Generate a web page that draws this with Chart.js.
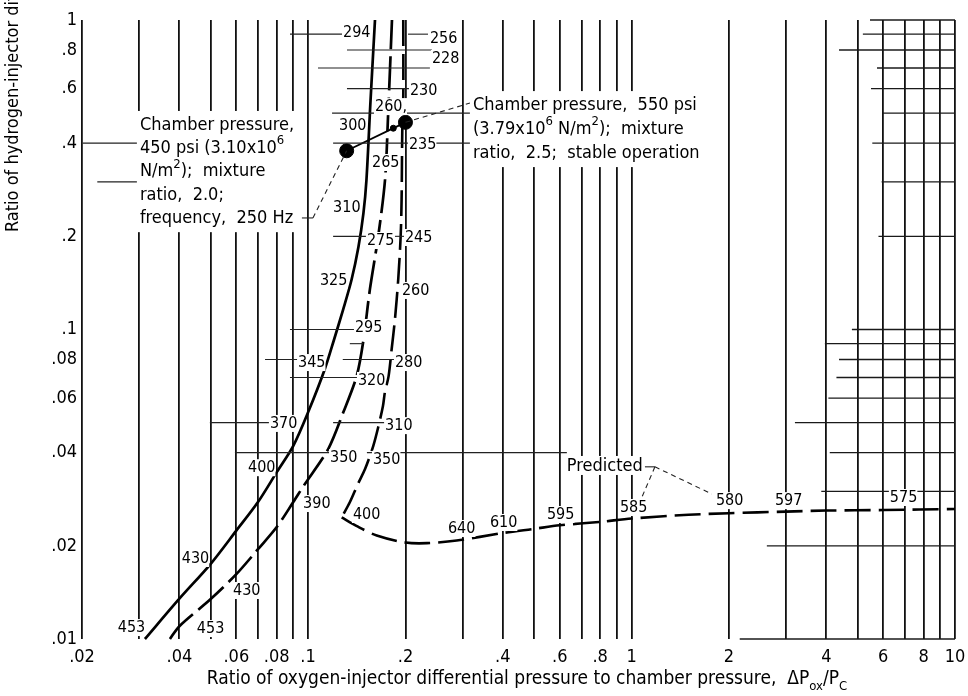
<!DOCTYPE html>
<html>
<head>
<meta charset="utf-8">
<script src="https://cdn.jsdelivr.net/npm/chart.js@4.4.1/dist/chart.umd.min.js"></script>
<style>
  html, body { margin: 0; padding: 0; background: #fff; }
  canvas { display: block; }
</style>
</head>
<body>
<canvas id="chart" width="968" height="696"></canvas>
<script>
const FONT = "'DejaVu Sans Condensed', 'Liberation Sans Narrow', 'DejaVu Sans', sans-serif";

// Axis grid and tick labels (log-log paper)
const xGridValues = [0.02, 0.03, 0.04, 0.05, 0.06, 0.07, 0.08, 0.09,
  0.1, 0.2, 0.3, 0.4, 0.5, 0.6, 0.7, 0.8, 0.9, 1, 2, 3, 4, 5, 6, 7, 8, 9, 10];
const xLabelValues = [0.02, 0.04, 0.06, 0.08, 0.1, 0.2, 0.4, 0.6, 0.8, 1, 2, 4, 6, 8, 10];
const xLabelText = ['.02', '.04', '.06', '.08', '.1', '.2', '.4', '.6', '.8', '1', '2', '4', '6', '8', '10'];
const yLabelValues = [0.01, 0.02, 0.04, 0.06, 0.08, 0.1, 0.2, 0.4, 0.6, 0.8, 1];
const yLabelText = ['.01', '.02', '.04', '.06', '.08', '.1', '.2', '.4', '.6', '.8', '1'];

// Stability boundaries: [dPox/Pc, dPh/Pc]
const solidCurve = [[0.0313, 0.01], [0.04, 0.0135], [0.05, 0.0175], [0.06, 0.0224], [0.07, 0.0277],
  [0.08, 0.0346], [0.09, 0.0421], [0.1, 0.054], [0.1124, 0.074], [0.1202, 0.0925], [0.1282, 0.1156],
  [0.1362, 0.1445], [0.1431, 0.1848], [0.1483, 0.2378], [0.1515, 0.304], [0.156, 0.551], [0.161, 1.0]];
const longDashCurve = [[0.0374, 0.01], [0.04, 0.011], [0.05, 0.01346], [0.06, 0.0162], [0.07, 0.0195],
  [0.08, 0.023], [0.09, 0.0277], [0.097, 0.0313], [0.1154, 0.0411], [0.1285, 0.054], [0.1413, 0.0707],
  [0.148, 0.0911], [0.1553, 0.135], [0.1648, 0.2005], [0.173, 0.306], [0.1767, 0.49], [0.1817, 1.0]];
const shortDashCurve = [[0.1969, 1.0], [0.1969, 0.555], [0.1955, 0.4346], [0.1946, 0.264], [0.1933, 0.2005],
  [0.19, 0.1456], [0.1856, 0.108], [0.1813, 0.0865], [0.1774, 0.0707], [0.1728, 0.0628], [0.1704, 0.0566],
  [0.1648, 0.0484], [0.159, 0.042], [0.15, 0.0354], [0.1426, 0.0317], [0.1347, 0.0277], [0.127, 0.0247]];
const predictedCurve = [[0.127, 0.0247], [0.141, 0.0232], [0.163, 0.0216], [0.2, 0.0205], [0.233, 0.0204],
  [0.288, 0.0208], [0.4, 0.022], [0.5, 0.0227], [0.6, 0.0233], [0.8, 0.0239], [1.0, 0.0245], [1.5, 0.0252],
  [2, 0.0255], [3, 0.0258], [4, 0.026], [6, 0.0261], [10, 0.0263]];

// Operating points (450 psi and 550 psi) and the crossing marker
const operatingPoints = [[0.1316, 0.378], [0.2, 0.467]];
const crossingPoint = [[0.1834, 0.447]];

// Value labels along the curves: [text, x, y] (left edge, middle)
const curveLabels = [
  ['294', 0.1282, 0.915], ['256', 0.238, 0.875], ['228', 0.2415, 0.754], ['230', 0.2065, 0.594],
  ['260,', 0.161, 0.527], ['300', 0.1246, 0.458], ['235', 0.205, 0.3975], ['265', 0.1576, 0.3477],
  ['310', 0.1195, 0.2487], ['275', 0.152, 0.1946], ['245', 0.1993, 0.199], ['325', 0.1088, 0.1445],
  ['260', 0.195, 0.1342], ['295', 0.1396, 0.1019], ['345', 0.0931, 0.0785], ['280', 0.1856, 0.0785],
  ['320', 0.1426, 0.0687], ['370', 0.0762, 0.0499], ['310', 0.173, 0.0491], ['350', 0.1169, 0.0387],
  ['350', 0.1587, 0.0382], ['400', 0.0652, 0.0359], ['390', 0.0965, 0.0275], ['400', 0.1376, 0.02534],
  ['430', 0.0407, 0.01827], ['430', 0.0586, 0.0144], ['453', 0.0258, 0.01093], ['453', 0.0453, 0.01085],
  ['640', 0.2706, 0.02284], ['610', 0.3648, 0.02388], ['595', 0.5476, 0.02534], ['585', 0.9205, 0.0267],
  ['580', 1.8236, 0.0281], ['597', 2.775, 0.0281], ['575', 6.29, 0.02876]
];
const predictedLabel = ['Predicted', 0.631, 0.0365];

// Leader lines to the labels: [y, xFrom, xTo]
const leaderLines = [
  [0.9, 0.0879, 0.1282], [0.9, 0.2036, 0.2348], [0.8, 0.1319, 0.2415], [0.7, 0.1073, 0.238],
  [0.6, 0.1319, 0.2065], [0.5, 0.1186, 0.3165], [0.4, 0.0201, 0.0296], [0.4, 0.1195, 0.2036],
  [0.4, 0.2425, 0.3165], [0.3, 0.0223, 0.0296], [0.2, 0.1195, 0.152], [0.2, 0.1856, 0.1993],
  [0.1, 0.0879, 0.1396], [0.09, 0.1346, 0.148], [0.08, 0.0736, 0.0931], [0.08, 0.128, 0.1856],
  [0.07, 0.0879, 0.1426], [0.05, 0.0497, 0.0762], [0.05, 0.1195, 0.173], [0.04, 0.0594, 0.1169],
  [0.04, 0.152, 0.631]
];

// Horizontal rulings on the right-hand part of the paper: [y, xStart] (to x = 10)
const rightRulings = [[1, 5.46], [0.9, 5.19], [0.8, 4.38], [0.7, 5.74], [0.6, 5.5], [0.5, 5.99],
  [0.4, 5.55], [0.3, 5.93], [0.2, 5.8], [0.1, 4.8], [0.09, 3.96], [0.08, 4.38], [0.07, 4.3],
  [0.06, 4.06], [0.05, 3.2], [0.04, 4.1], [0.03, 3.86], [0.02, 2.62], [0.01, 2.16]];

// Callout connectors
const connectorSolid = [[0.1316, 0.378], [0.2, 0.467]];
const calloutTicks = [[[0.0957, 0.2293], [0.1035, 0.2293]], [[1.100, 0.036], [1.181, 0.036]]];
const calloutDashed = [
  [[0.1035, 0.2293], [0.1316, 0.378]],
  [[0.2, 0.467], [0.3165, 0.539]],
  [[1.181, 0.036], [1.772, 0.0294]],
  [[1.181, 0.036], [1.077, 0.02876]]
];

// Note blocks: lines of [text, 'sup'|'sub'|''] runs; anchor = [x, y] of first line
const leftNote = [
  [['Chamber pressure,', '']],
  [['450 psi (3.10x10', ''], ['6', 'sup']],
  [['N/m', ''], ['2', 'sup'], [');  mixture', '']],
  [['ratio,  2.0;', '']],
  [['frequency,  250 Hz', '']]
];
const leftNoteAnchor = [0.0302, 0.458];
const rightNote = [
  [['Chamber pressure,  550 psi', '']],
  [['(3.79x10', ''], ['6', 'sup'], [' N/m', ''], ['2', 'sup'], [');  mixture', '']],
  [['ratio,  2.5;  stable operation', '']]
];
const rightNoteAnchor = [0.3234, 0.531];

const xTitle = [['Ratio of oxygen-injector differential pressure to chamber pressure,  \u0394P', ''],
  ['ox', 'sub'], ['/P', ''], ['C', 'sub']];
const yTitle = 'Ratio of hydrogen-injector differential pressure to chamber pressure';

const toPts = arr => arr.map(([x, y]) => ({ x, y }));

function lineSet(points, width, dash, color) {
  return {
    data: toPts(points), showLine: true, pointRadius: 0, borderColor: color || '#000',
    borderWidth: width, borderDash: dash || [], fill: false, clip: false, tension: 0
  };
}

const datasets = [];
rightRulings.forEach(([y, x0]) => datasets.push(lineSet([[x0, y], [10, y]], 1.4, [], '#1a1a1a')));
leaderLines.forEach(([y, x0, x1]) => datasets.push(lineSet([[x0, y], [x1, y]], 1.1, [], '#222')));
calloutTicks.forEach(seg => datasets.push(lineSet(seg, 1.1, [], '#222')));
calloutDashed.forEach(seg => datasets.push(lineSet(seg, 1.1, [5, 4], '#222')));
datasets.push(lineSet(connectorSolid, 1.8));
datasets.push(Object.assign(lineSet(solidCurve, 2.7), { tension: 0.3 }));
datasets.push(Object.assign(lineSet(longDashCurve, 2.7, [34, 7]), { tension: 0.3 }));
datasets.push(Object.assign(lineSet(shortDashCurve, 2.6, [26, 8]), { tension: 0.3 }));
datasets.push(Object.assign(lineSet(predictedCurve, 2.6, [26, 8]), { tension: 0.3 }));
datasets.push({ data: toPts(operatingPoints), showLine: false, pointRadius: 7, pointHoverRadius: 7,
  backgroundColor: '#000', borderColor: '#000', clip: false });
datasets.push({ data: toPts(crossingPoint), showLine: false, pointRadius: 3, pointHoverRadius: 3,
  backgroundColor: '#000', borderColor: '#000', clip: false });

function runFont(size, mode) { return `${mode ? Math.round(size * 0.7) : size}px ${FONT}`; }
function richWidth(ctx, runs, size) {
  let w = 0;
  runs.forEach(([t, m]) => { ctx.font = runFont(size, m); w += ctx.measureText(t).width; });
  return w;
}
function drawRich(ctx, runs, x, y, size) {
  runs.forEach(([t, m]) => {
    ctx.font = runFont(size, m);
    const dy = m === 'sup' ? -size * 0.4 : (m === 'sub' ? size * 0.33 : 0);
    ctx.fillText(t, x, y + dy);
    x += ctx.measureText(t).width;
  });
}

function drawNote(chart, lines, anchor, size, spacing) {
  const ctx = chart.ctx;
  const x0 = chart.scales.x.getPixelForValue(anchor[0]);
  const y0 = chart.scales.y.getPixelForValue(anchor[1]);
  let maxW = 0;
  lines.forEach(l => { maxW = Math.max(maxW, richWidth(ctx, l, size)); });
  ctx.fillStyle = '#fff';
  ctx.fillRect(x0 - 3, y0 - 14, maxW + 6, spacing * (lines.length - 1) + 28);
  ctx.fillStyle = '#000';
  ctx.textBaseline = 'middle';
  ctx.textAlign = 'left';
  lines.forEach((l, i) => drawRich(ctx, l, x0, y0 + i * spacing, size));
}

// Text drawn on a white patch so it breaks the rulings and curves beneath it
function drawMaskedLabel(chart, text, x, y, size) {
  const ctx = chart.ctx;
  const X = chart.scales.x.getPixelForValue(x), Y = chart.scales.y.getPixelForValue(y);
  ctx.font = `${size}px ${FONT}`;
  const w = ctx.measureText(text).width;
  ctx.fillStyle = '#fff';
  ctx.fillRect(X - 1, Y - size / 2, w + 1, size + 1);
  ctx.fillStyle = '#000';
  ctx.fillText(text, X, Y + 1);
}

const paperNotes = {
  id: 'paperNotes',
  afterDatasetsDraw(chart) {
    const ctx = chart.ctx;
    ctx.save();
    ctx.textBaseline = 'middle';
    ctx.textAlign = 'left';
    curveLabels.forEach(([t, x, y]) => drawMaskedLabel(chart, t, x, y, 16));
    drawMaskedLabel(chart, predictedLabel[0], predictedLabel[1], predictedLabel[2], 18);
    drawNote(chart, leftNote, leftNoteAnchor, 18, 23.3);
    drawNote(chart, rightNote, rightNoteAnchor, 18, 24);
    ctx.restore();
  },
  afterDraw(chart) {
    const ctx = chart.ctx;
    ctx.save();
    ctx.fillStyle = '#000';
    ctx.textBaseline = 'alphabetic';
    const w = richWidth(ctx, xTitle, 19);
    drawRich(ctx, xTitle, 527 - w / 2, 684, 19);
    ctx.translate(18, 232);
    ctx.rotate(-Math.PI / 2);
    ctx.font = `18px ${FONT}`;
    ctx.textAlign = 'left';
    ctx.fillText(yTitle, 0, 0);
    ctx.restore();
  }
};

function labelFor(values, texts, v) {
  const i = values.findIndex(t => Math.abs(t - v) / t < 1e-6);
  return i < 0 ? '' : texts[i];
}

Chart.defaults.color = '#000';
Chart.defaults.font.family = FONT;

new Chart(document.getElementById('chart'), {
  type: 'scatter',
  data: { datasets },
  options: {
    responsive: false,
    animation: false,
    events: [],
    layout: { padding: { left: 0, right: 13, top: 20, bottom: 0 } },
    plugins: { legend: { display: false }, tooltip: { enabled: false } },
    scales: {
      x: {
        type: 'logarithmic', min: 0.02, max: 10,
        afterBuildTicks: s => { s.ticks = xGridValues.map(v => ({ value: v })); },
        afterFit: s => { s.height = 57; s.paddingLeft = 0; s.paddingRight = 0; },
        border: { display: false },
        grid: { color: '#111', lineWidth: 1.8, drawTicks: false },
        ticks: {
          autoSkip: false, maxRotation: 0, padding: 8, font: { size: 18 },
          callback: v => labelFor(xLabelValues, xLabelText, v)
        }
      },
      y: {
        type: 'logarithmic', min: 0.01, max: 1,
        afterBuildTicks: s => { s.ticks = yLabelValues.map(v => ({ value: v })); },
        afterFit: s => { s.width = 82; s.paddingTop = 0; s.paddingBottom = 0; },
        border: { display: false },
        grid: { display: false, drawTicks: false },
        ticks: {
          autoSkip: false, padding: 5, font: { size: 18 },
          callback: v => labelFor(yLabelValues, yLabelText, v)
        }
      }
    }
  },
  plugins: [paperNotes]
});
</script>
</body>
</html>
